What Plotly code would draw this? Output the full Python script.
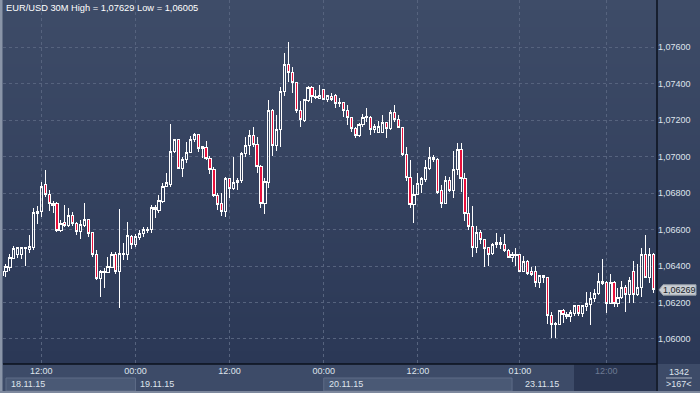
import base64, struct, zlib
import pandas as pd
import plotly.graph_objects as go

# ---------------- data ----------------
SYMBOL_TITLE = "EUR/USD 30M"
HIGH_TXT = "1,07629"
LOW_TXT = "1,06005"

times = list(pd.date_range("2015-11-18 07:00", "2015-11-20 23:30", freq="30min")) + \
        list(pd.date_range("2015-11-23 00:00", "2015-11-23 18:00", freq="30min"))
categories = [t.strftime("%d.%m.%y %H:%M") for t in times]

open_ = [1.06351,1.06369,1.06393,1.06443,1.06461,1.06461,1.06494,1.06492,1.06501,1.06689,
         1.06699,1.06845,1.06795,1.06733,1.06741,1.06594,1.06638,1.06625,1.06675,1.06631,
         1.06587,1.06625,1.06658,1.06585,1.06464,1.06333,1.06369,1.06366,1.06393,1.06466,
         1.06369,1.06470,1.06464,1.06561,1.06516,1.06558,1.06580,1.06594,1.06602,1.06722,
         1.06704,1.06753,1.06839,1.06850,1.07028,1.07092,1.06936,1.06986,1.07022,1.07095,
         1.07123,1.07055,1.07051,1.06991,1.06931,1.06786,1.06741,1.06699,1.06881,1.06827,
         1.06860,1.06869,1.07019,1.07059,1.07117,1.07068,1.06945,1.06744,1.06858,1.07256,
         1.07062,1.07150,1.07357,1.07508,1.07461,1.07408,1.07256,1.07201,1.07307,1.07379,
         1.07329,1.07320,1.07370,1.07311,1.07329,1.07333,1.07289,1.07296,1.07256,1.07216,
         1.07156,1.07114,1.07179,1.07214,1.07216,1.07150,1.07134,1.07132,1.07187,1.07152,
         1.07240,1.07205,1.07161,1.07013,1.06885,1.06735,1.06794,1.06850,1.06876,1.06936,
         1.06997,1.06982,1.06812,1.06744,1.06867,1.06817,1.06931,1.07037,1.06881,1.06689,
         1.06616,1.06501,1.06585,1.06547,1.06501,1.06470,1.06519,1.06530,1.06519,1.06488,
         1.06448,1.06459,1.06461,1.06370,1.06426,1.06370,1.06370,1.06309,1.06346,1.06338,
         1.06128,1.06081,1.06081,1.06154,1.06136,1.06123,1.06141,1.06181,1.06141,1.06178,
         1.06187,1.06223,1.06247,1.06316,1.06311,1.06196,1.06311,1.06196,1.06229,1.06284,
         1.06242,1.06370,1.06242,1.06284,1.06465,1.06338,1.06461]
high = [1.06375,1.06411,1.06464,1.06510,1.06507,1.06507,1.06507,1.06571,1.06717,1.06730,
        1.06863,1.06927,1.06817,1.06757,1.06753,1.06653,1.06735,1.06717,1.06699,1.06644,
        1.06653,1.06748,1.06658,1.06585,1.06488,1.06379,1.06391,1.06452,1.06479,1.06475,
        1.06713,1.06525,1.06644,1.06571,1.06574,1.06598,1.06613,1.06616,1.06735,1.06735,
        1.06790,1.06854,1.06909,1.07178,1.07099,1.07095,1.06997,1.07079,1.07114,1.07128,
        1.07123,1.07059,1.07086,1.07004,1.06945,1.06799,1.06803,1.06891,1.06881,1.07000,
        1.06881,1.07028,1.07106,1.07147,1.07165,1.07110,1.06955,1.06881,1.07311,1.07264,
        1.07229,1.07381,1.07567,1.07627,1.07490,1.07408,1.07307,1.07317,1.07388,1.07388,
        1.07366,1.07393,1.07370,1.07338,1.07348,1.07344,1.07320,1.07302,1.07284,1.07220,
        1.07165,1.07187,1.07232,1.07265,1.07223,1.07178,1.07198,1.07229,1.07192,1.07256,
        1.07284,1.07229,1.07165,1.07051,1.06982,1.06845,1.06909,1.06891,1.06982,1.07055,
        1.07009,1.06991,1.06845,1.06894,1.06890,1.07033,1.07073,1.07073,1.06909,1.06777,
        1.06730,1.06622,1.06598,1.06547,1.06507,1.06529,1.06580,1.06558,1.06576,1.06492,
        1.06476,1.06497,1.06461,1.06457,1.06433,1.06397,1.06400,1.06351,1.06351,1.06342,
        1.06146,1.06092,1.06154,1.06163,1.06150,1.06159,1.06187,1.06187,1.06187,1.06256,
        1.06256,1.06273,1.06360,1.06439,1.06318,1.06355,1.06318,1.06278,1.06316,1.06296,
        1.06342,1.06430,1.06412,1.06497,1.06571,1.06501,1.06470]
low = [1.06342,1.06342,1.06375,1.06437,1.06443,1.06437,1.06401,1.06470,1.06488,1.06629,
       1.06671,1.06777,1.06704,1.06693,1.06589,1.06589,1.06613,1.06613,1.06620,1.06571,
       1.06550,1.06613,1.06561,1.06448,1.06324,1.06229,1.06278,1.06366,1.06393,1.06357,
       1.06168,1.06433,1.06433,1.06492,1.06507,1.06543,1.06561,1.06580,1.06583,1.06662,
       1.06693,1.06744,1.06836,1.06836,1.07019,1.06931,1.06891,1.06964,1.07019,1.07083,
       1.07028,1.06991,1.06982,1.06905,1.06781,1.06708,1.06677,1.06668,1.06772,1.06818,
       1.06818,1.06858,1.07000,1.07009,1.07055,1.06909,1.06717,1.06684,1.06827,1.07006,
       1.07033,1.07055,1.07335,1.07412,1.07351,1.07242,1.07165,1.07192,1.07302,1.07293,
       1.07318,1.07320,1.07311,1.07302,1.07307,1.07265,1.07274,1.07216,1.07174,1.07137,
       1.07101,1.07106,1.07165,1.07192,1.07119,1.07128,1.07128,1.07128,1.07101,1.07147,
       1.07192,1.07156,1.07004,1.06867,1.06717,1.06638,1.06790,1.06799,1.06863,1.06927,
       1.06973,1.06796,1.06717,1.06744,1.06808,1.06772,1.06900,1.06808,1.06649,1.06598,
       1.06448,1.06474,1.06521,1.06397,1.06402,1.06461,1.06497,1.06494,1.06479,1.06443,
       1.06424,1.06402,1.06366,1.06366,1.06351,1.06346,1.06287,1.06282,1.06309,1.06081,
       1.06006,1.06006,1.06077,1.06086,1.06108,1.06095,1.06126,1.06126,1.06123,1.06156,
       1.06077,1.06205,1.06242,1.06296,1.06145,1.06192,1.06178,1.06178,1.06220,1.06150,
       1.06196,1.06196,1.06238,1.06232,1.06333,1.06309,1.06251]
close = [1.06369,1.06397,1.06448,1.06497,1.06501,1.06501,1.06501,1.06507,1.06693,1.06702,
         1.06839,1.06795,1.06741,1.06741,1.06594,1.06635,1.06625,1.06675,1.06631,1.06587,
         1.06629,1.06658,1.06580,1.06464,1.06333,1.06369,1.06364,1.06395,1.06464,1.06369,
         1.06470,1.06464,1.06565,1.06521,1.06561,1.06580,1.06598,1.06603,1.06722,1.06708,
         1.06757,1.06839,1.06858,1.07031,1.07092,1.06936,1.06986,1.07024,1.07095,1.07123,
         1.07046,1.07044,1.06991,1.06931,1.06786,1.06735,1.06699,1.06881,1.06827,1.06858,
         1.06872,1.07019,1.07059,1.07117,1.07068,1.06945,1.06744,1.06863,1.07256,1.07059,
         1.07150,1.07360,1.07508,1.07461,1.07408,1.07252,1.07205,1.07311,1.07379,1.07329,
         1.07322,1.07333,1.07315,1.07333,1.07311,1.07293,1.07296,1.07252,1.07216,1.07156,
         1.07114,1.07179,1.07216,1.07221,1.07150,1.07165,1.07165,1.07190,1.07156,1.07240,
         1.07205,1.07161,1.07013,1.06885,1.06735,1.06794,1.06854,1.06881,1.06940,1.06995,
         1.06982,1.06803,1.06744,1.06867,1.06817,1.06931,1.07037,1.06881,1.06689,1.06616,
         1.06501,1.06585,1.06547,1.06497,1.06466,1.06519,1.06530,1.06519,1.06483,1.06448,
         1.06465,1.06463,1.06370,1.06426,1.06360,1.06355,1.06309,1.06346,1.06338,1.06128,
         1.06081,1.06086,1.06154,1.06136,1.06123,1.06145,1.06181,1.06141,1.06181,1.06192,
         1.06223,1.06247,1.06316,1.06306,1.06196,1.06311,1.06196,1.06229,1.06284,1.06242,
         1.06320,1.06242,1.06284,1.06465,1.06338,1.06461,1.06269]

Y_TICKS = [1.060, 1.062, 1.064, 1.066, 1.068, 1.070, 1.072, 1.074, 1.076]
TIME_TICKS = ["18.11.15 12:00", "19.11.15 00:00", "19.11.15 12:00", "20.11.15 00:00",
              "20.11.15 12:00", "23.11.15 01:00", "23.11.15 12:00"]
TIME_TICK_TEXT = ["12:00", "00:00", "12:00", "00:00", "12:00", "01:00", "12:00"]
DATE_LABELS = ["18.11.15", "19.11.15", "20.11.15", "23.11.15"]
DATE_LABEL_AT = ["18.11.15 07:30", "19.11.15 00:00", "20.11.15 00:00", "23.11.15 01:00"]
BAR_COUNT_TXT = "1342"
VISIBLE_TXT = ">%d<" % len(categories)

# ---------------- geometry / style ----------------
W, H = 700, 393
PX_L, PX_R = 3, 657          # plot area, px
PX_B = 364                   # plot bottom, px
X_RANGE = [0.24, 166.95]
Y_RANGE = [1.058628, 1.078594]
FONT = "Liberation Sans, Arial, sans-serif"
GRID = "#56637e"
TXT = "#dfe4ec"

def px(x):
    return x / W

def py(y):
    return 1 - y / H

def cat_px(label):
    """pixel x of a category centre (same linear scale as the x axis)."""
    idx = categories.index(label)
    return PX_L + (idx - X_RANGE[0]) * (PX_R - PX_L) / (X_RANGE[1] - X_RANGE[0])

def png_gradient(top, bottom, n=128):
    raw = b""
    for k in range(n):
        t = k / (n - 1)
        raw += b"\x00" + bytes(round(top[j] + (bottom[j] - top[j]) * t) for j in range(3))
    def chunk(tag, data):
        return struct.pack(">I", len(data)) + tag + data + struct.pack(">I", zlib.crc32(tag + data) & 0xffffffff)
    png = (b"\x89PNG\r\n\x1a\n" + chunk(b"IHDR", struct.pack(">IIBBBBB", 1, n, 8, 2, 0, 0, 0))
           + chunk(b"IDAT", zlib.compress(raw)) + chunk(b"IEND", b""))
    return "data:image/png;base64," + base64.b64encode(png).decode()

fig = go.Figure()
fig.add_trace(go.Candlestick(
    x=categories, open=open_, high=high, low=low, close=close,
    increasing=dict(line=dict(color="#ffffff", width=1), fillcolor="rgba(0,0,0,0)"),
    decreasing=dict(line=dict(color="#ffffff", width=1), fillcolor="#e8103c"),
    whiskerwidth=0, hoverinfo="skip", showlegend=False,
))

tick_text = [t if k < len(TIME_TICK_TEXT) - 1 else "<span style='color:#6d7a92'>%s</span>" % t
             for k, t in enumerate(TIME_TICK_TEXT)]

shapes = []
# bottom axis strip background
shapes.append(dict(type="rect", xref="paper", yref="paper", x0=0, x1=1, y0=0, y1=py(PX_B),
                   fillcolor="#3d4b68", line=dict(width=0), layer="below"))
# date boxes (alternate days)
day_starts = [next(k for k, c in enumerate(categories) if c.startswith(lab)) for lab in DATE_LABELS]
day_ends = day_starts[1:] + [len(categories)]
for k, (s, e) in enumerate(zip(day_starts, day_ends)):
    if k % 2 == 0:
        shapes.append(dict(type="rect", xref="x", yref="paper", x0=max(s, 1.0), x1=e,
                           y0=py(391), y1=py(378), fillcolor="#4a5975",
                           line=dict(color="#5e6c87", width=1), layer="below"))
# dark strip at right of time axis
shapes.append(dict(type="rect", xref="paper", yref="paper", x0=px(574), x1=px(656),
                   y0=py(391), y1=py(364.5), fillcolor="#2a3652", line=dict(width=0), layer="below"))
# black separators
shapes.append(dict(type="line", xref="paper", yref="paper", x0=px(PX_R), x1=px(PX_R), y0=0, y1=1,
                   line=dict(color="#0b101c", width=1.5)))
shapes.append(dict(type="line", xref="paper", yref="paper", x0=px(PX_L), x1=px(PX_R),
                   y0=py(PX_B), y1=py(PX_B), line=dict(color="#0b101c", width=1.5)))
# frame
shapes.append(dict(type="rect", xref="paper", yref="paper", x0=0, x1=px(2.5), y0=0, y1=1,
                   fillcolor="#8a95a8", line=dict(width=0)))
shapes.append(dict(type="rect", xref="paper", yref="paper", x0=0, x1=1, y0=0, y1=py(391),
                   fillcolor="#7d889d", line=dict(width=0)))
# small line between counters
shapes.append(dict(type="line", xref="paper", yref="paper", x0=px(666), x1=px(692),
                   y0=py(378), y1=py(378), line=dict(color="#aab2c0", width=1)))
# last-price tag
last = close[-1]
d = 5.2 / ((PX_B) / (Y_RANGE[1] - Y_RANGE[0]))
shapes.append(dict(type="path", xref="paper", yref="y",
                   path="M %f,%f L %f,%f L %f,%f L %f,%f L %f,%f Z" % (
                       px(659), last, px(663), last + d, px(696), last + d,
                       px(696), last - d, px(663), last - d),
                   fillcolor="#c9cdd3", line=dict(color="#9aa0aa", width=1)))

annotations = []
annotations.append(dict(xref="paper", yref="paper", x=px(4), y=py(8.3), xanchor="left", yanchor="middle",
                        text="%s High = %s Low = %s" % (SYMBOL_TITLE, HIGH_TXT, LOW_TXT),
                        showarrow=False, font=dict(family=FONT, size=9.3, color="#ffffff")))
for lab, at in zip(DATE_LABELS, DATE_LABEL_AT):
    annotations.append(dict(xref="paper", yref="paper", x=px(cat_px(at) + 3), y=py(383.6),
                            xanchor="left", yanchor="middle", text=lab, showarrow=False,
                            font=dict(family=FONT, size=9, color=TXT)))
annotations.append(dict(xref="paper", yref="y", x=px(679), y=last, text=("%.5f" % last).replace(".", ","),
                        xanchor="center", yanchor="middle", showarrow=False,
                        font=dict(family=FONT, size=9, color="#1a1f2a")))
annotations.append(dict(xref="paper", yref="paper", x=px(679), y=py(372), text=BAR_COUNT_TXT,
                        xanchor="center", yanchor="middle", showarrow=False,
                        font=dict(family=FONT, size=9, color=TXT)))
annotations.append(dict(xref="paper", yref="paper", x=px(679), y=py(384.3), text=VISIBLE_TXT.replace("<", "&lt;"),
                        xanchor="center", yanchor="middle", showarrow=False,
                        font=dict(family=FONT, size=9, color=TXT)))

fig.update_layout(
    width=W, height=H, margin=dict(l=0, r=0, t=0, b=0),
    paper_bgcolor="#3d4b68", plot_bgcolor="rgba(0,0,0,0)",
    separators=", ", boxgap=0.2,
    font=dict(family=FONT, size=9, color=TXT),
    images=[dict(source=png_gradient((62, 76, 104), (43, 56, 86)), xref="paper", yref="paper",
                 x=0, y=1, sizex=1, sizey=1 - py(PX_B), sizing="stretch",
                 xanchor="left", yanchor="top", layer="below")],
    xaxis=dict(type="category", domain=[px(PX_L), px(PX_R)], range=X_RANGE,
               rangeslider=dict(visible=False), showgrid=True, gridcolor=GRID, griddash="3px,3px",
               gridwidth=1, tickvals=TIME_TICKS, ticktext=tick_text, ticks="", showline=False,
               zeroline=False, tickfont=dict(family=FONT, size=9, color=TXT), fixedrange=True),
    yaxis=dict(side="right", domain=[py(PX_B), 1], range=Y_RANGE, tickvals=Y_TICKS,
               tickformat=".5f", showgrid=True, gridcolor=GRID, griddash="3px,3px", gridwidth=1,
               ticks="", showline=False, zeroline=False,
               tickfont=dict(family=FONT, size=9, color=TXT), fixedrange=True),
    shapes=shapes, annotations=annotations, hovermode=False,
)

fig.write_html("out.html", config={"displayModeBar": False},
               post_script="document.body.style.margin='0';document.body.style.padding='0';"
                           "document.body.style.overflow='hidden';"
                           "var st=document.createElement('style');"
                           "st.textContent='.boxlayer path{shape-rendering:crispEdges}';"
                           "document.head.appendChild(st);")
